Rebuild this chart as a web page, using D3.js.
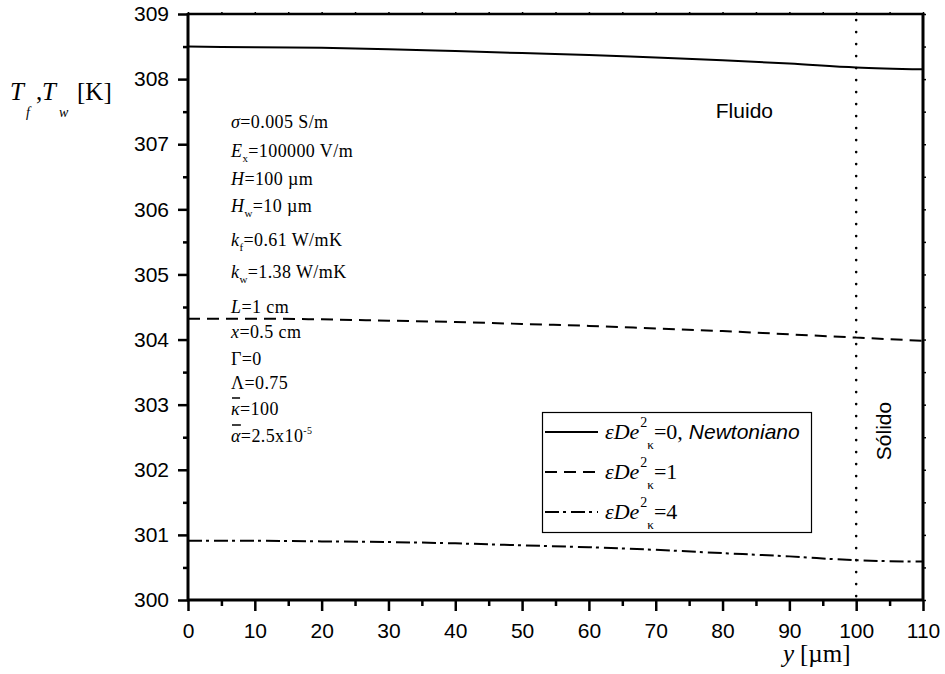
<!DOCTYPE html>
<html>
<head>
<meta charset="utf-8">
<script src="https://cdn.jsdelivr.net/npm/d3@7"></script>
<style>
  html, body { margin: 0; padding: 0; background: #fff; }
  svg { display: block; }
</style>
</head>
<body>
<svg id="chart" width="945" height="674"></svg>
<script>
// ---------- data ----------
const yPositions = [0, 10, 20, 30, 40, 50, 60, 70, 80, 90, 100, 110]; // y [µm]
const tempNewtonian = [308.50, 308.49, 308.48, 308.46, 308.43, 308.40, 308.37, 308.33, 308.29, 308.24, 308.18, 308.15];
const tempDe1       = [304.32, 304.32, 304.31, 304.29, 304.27, 304.24, 304.21, 304.17, 304.13, 304.08, 304.03, 303.98];
const tempDe4       = [300.91, 300.91, 300.90, 300.89, 300.87, 300.84, 300.81, 300.77, 300.72, 300.67, 300.61, 300.59];
const seriesValues = ["0", "1", "4"];
const xTicksMajor = [0, 10, 20, 30, 40, 50, 60, 70, 80, 90, 100, 110];
const xTicksMinor = [5, 15, 25, 35, 45, 55, 65, 75, 85, 95, 105];
const yTicksMajor = [300, 301, 302, 303, 304, 305, 306, 307, 308, 309];
const yTicksMinor = [300.5, 301.5, 302.5, 303.5, 304.5, 305.5, 306.5, 307.5, 308.5];
const interfacePos = 100;
const regionLabels = ["Fluido", "Sólido"];

// ---------- layout ----------
const svg = d3.select("#chart");
const X0 = 188, X1 = 923, Y0 = 600, Y1 = 14;
const x = d3.scaleLinear().domain([0, 110]).range([X0, X1]);
const y = d3.scaleLinear().domain([300, 309]).range([Y0, Y1]);
const SERIF = "'Liberation Serif', 'Times New Roman', serif";
const SANS = "'Liberation Sans', Arial, sans-serif";

// rich text helper: sequential parts
function rich(g, x0, y0, parts, spacing) {
  let cx = x0;
  parts.forEach(p => {
    cx += (p.dx || 0);
    const t = g.append("text")
      .attr("x", cx).attr("y", y0 + (p.shift || 0))
      .attr("font-family", p.family || SERIF)
      .attr("font-size", p.size)
      .attr("font-style", p.italic ? "italic" : "normal")
      .attr("letter-spacing", spacing || 0)
      .attr("fill", "#000")
      .text(p.t);
    const w = t.node().getComputedTextLength();
    if (p.overbar) {
      g.append("line").attr("x1", cx + 1).attr("x2", cx + w)
        .attr("y1", y0 - p.overbar).attr("y2", y0 - p.overbar)
        .attr("stroke", "#000").attr("stroke-width", 1.5);
    }
    cx += w;
  });
}

// ---------- axes ----------
const axL = svg.append("g").attr("transform", `translate(${X0},0)`)
  .call(d3.axisLeft(y).tickValues(yTicksMajor).tickSize(10).tickPadding(9).tickFormat(d3.format("d")));
const axLm = svg.append("g").attr("transform", `translate(${X0},0)`)
  .call(d3.axisLeft(y).tickValues(yTicksMinor).tickSize(5).tickFormat(""));
const axB = svg.append("g").attr("transform", `translate(0,${Y0})`)
  .call(d3.axisBottom(x).tickValues(xTicksMajor).tickSize(11).tickPadding(12).tickFormat(d3.format("d")));
const axBm = svg.append("g").attr("transform", `translate(0,${Y0})`)
  .call(d3.axisBottom(x).tickValues(xTicksMinor).tickSize(6).tickFormat(""));
const axT = svg.append("g").attr("transform", `translate(0,${Y1})`)
  .call(d3.axisTop(x).tickValues(xTicksMajor.concat(xTicksMinor)).tickSize(2).tickFormat(""));
const axR = svg.append("g").attr("transform", `translate(${X1},0)`)
  .call(d3.axisRight(y).tickValues(yTicksMajor.concat(yTicksMinor)).tickSize(3).tickFormat(""));

[axL, axLm, axB, axBm, axT, axR].forEach(a => {
  a.select(".domain").remove();
  a.selectAll(".tick line").attr("stroke", "#000").attr("stroke-width", 2.5);
  a.selectAll(".tick text").attr("font-family", SANS).attr("font-size", 21).attr("fill", "#000");
});
axT.selectAll(".tick line").attr("stroke-width", 1.5);
axR.selectAll(".tick line").attr("stroke-width", 1.5);

// frame
svg.append("line").attr("x1", X0).attr("x2", X0).attr("y1", Y1 - 1).attr("y2", Y0 + 1).attr("stroke", "#000").attr("stroke-width", 3);
svg.append("line").attr("x1", X0 - 1).attr("x2", X1 + 1).attr("y1", Y0).attr("y2", Y0).attr("stroke", "#000").attr("stroke-width", 3);
svg.append("line").attr("x1", X1).attr("x2", X1).attr("y1", Y1 - 1).attr("y2", Y0 + 1).attr("stroke", "#000").attr("stroke-width", 3);
svg.append("line").attr("x1", X0 - 1).attr("x2", X1 + 1).attr("y1", Y1).attr("y2", Y1).attr("stroke", "#000").attr("stroke-width", 2.5);

// interface dotted line
svg.append("line").attr("x1", x(interfacePos)).attr("x2", x(interfacePos))
  .attr("y1", y(309) + 6).attr("y2", y(300))
  .attr("stroke", "#000").attr("stroke-width", 2.6)
  .attr("stroke-linecap", "round").attr("stroke-dasharray", "0.1,11.9");

// ---------- series ----------
const styles = [
  {data: tempNewtonian, dash: null},
  {data: tempDe1, dash: "12,7"},
  {data: tempDe4, dash: "14,4,3,5"}
];
const line = d3.line().x(d => x(d[0])).y(d => y(d[1])).curve(d3.curveMonotoneX);
styles.forEach(s => {
  const pts = yPositions.map((p, i) => [p, s.data[i]]);
  svg.append("path").attr("d", line(pts)).attr("fill", "none")
    .attr("stroke", "#000").attr("stroke-width", 2)
    .attr("stroke-dasharray", s.dash);
});

// ---------- axis titles ----------
const titles = svg.append("g");
rich(titles, 10, 100, [{t: "T", italic: true, size: 25}]);
rich(titles, 26, 117, [{t: "f", italic: true, size: 14}]);
rich(titles, 36, 100, [{t: ",", size: 25}]);
rich(titles, 42, 100, [{t: "T", italic: true, size: 25}]);
rich(titles, 59, 117, [{t: "w", italic: true, size: 14}]);
rich(titles, 77, 100, [{t: "[K]", size: 25}]);

rich(titles, 783, 662, [{t: "y", italic: true, size: 25}]);
rich(titles, 800, 662, [{t: "[µm]", size: 25}]);

// ---------- region labels ----------
svg.append("text").attr("x", 773).attr("y", 118).attr("text-anchor", "end")
  .attr("font-family", SANS).attr("font-size", 21).text(regionLabels[0]);
svg.append("text").attr("transform", "translate(891,431) rotate(-90)").attr("text-anchor", "middle")
  .attr("font-family", SANS).attr("font-size", 21).text(regionLabels[1]);

// ---------- parameter annotations ----------
const ann = svg.append("g");
const AS = 18, SUB = 11;
const annLines = [
  {yb: 128, parts: [{t: "σ", italic: true, size: AS}, {t: "=0.005 S/m", size: AS}]},
  {yb: 157, parts: [{t: "E", italic: true, size: AS}, {t: "x", size: SUB, shift: 5}, {t: "=100000 V/m", size: AS}]},
  {yb: 185, parts: [{t: "H", italic: true, size: AS}, {t: "=100 µm", size: AS}]},
  {yb: 212, parts: [{t: "H", italic: true, size: AS}, {t: "w", size: SUB, shift: 5}, {t: "=10 µm", size: AS}]},
  {yb: 246, parts: [{t: "k", italic: true, size: AS}, {t: "f", size: SUB, shift: 5}, {t: "=0.61 W/mK", size: AS}]},
  {yb: 278, parts: [{t: "k", italic: true, size: AS}, {t: "w", size: SUB, shift: 5}, {t: "=1.38 W/mK", size: AS}]},
  {yb: 313, parts: [{t: "L", italic: true, size: AS}, {t: "=1 cm", size: AS}]},
  {yb: 338, parts: [{t: "x", italic: true, size: AS}, {t: "=0.5 cm", size: AS}]},
  {yb: 365, parts: [{t: "Γ=0", size: AS}]},
  {yb: 389, parts: [{t: "Λ=0.75", size: AS}]},
  {yb: 415, parts: [{t: "κ", italic: true, size: AS, overbar: 17}, {t: "=100", size: AS}]},
  {yb: 442, parts: [{t: "α", italic: true, size: AS, overbar: 17}, {t: "=2.5x10", size: AS}, {t: "-5", size: 10, shift: -8}]}
];
annLines.forEach(l => rich(ann, 231, l.yb, l.parts, 0.4));

// ---------- legend ----------
const lg = svg.append("g");
lg.append("rect").attr("x", 542.5).attr("y", 412.5).attr("width", 269).attr("height", 120)
  .attr("fill", "#fff").attr("stroke", "#000").attr("stroke-width", 1.2);
const rowY = [432, 472, 512];
styles.forEach((s, i) => {
  lg.append("line").attr("x1", 545).attr("x2", 598).attr("y1", rowY[i]).attr("y2", rowY[i])
    .attr("stroke", "#000").attr("stroke-width", 2).attr("stroke-dasharray", s.dash);
  const parts = [
    {t: "εDe", italic: true, size: 22},
    {t: "2", size: 14, shift: -12, dx: 1},
    {t: "κ", size: 13, shift: 10},
    {t: "=" + seriesValues[i] + (i === 0 ? "," : ""), size: 22}
  ];
  if (i === 0) parts.push({t: "Newtoniano", italic: true, size: 21, family: SANS, dx: 6});
  rich(lg, 605, rowY[i] + 7, parts);
});
</script>
</body>
</html>
